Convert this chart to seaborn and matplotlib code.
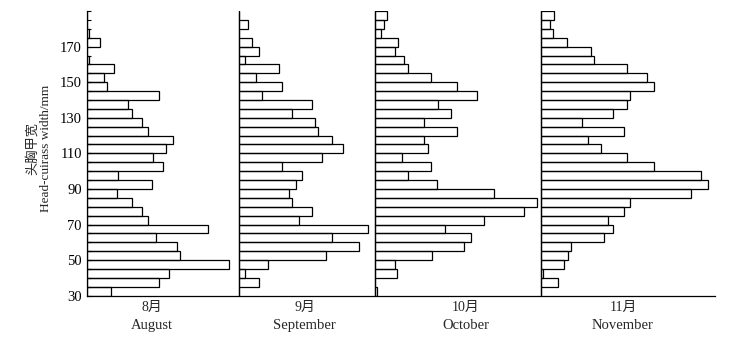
import pandas as pd
import matplotlib
matplotlib.use("Agg")
import matplotlib.pyplot as plt
import seaborn as sns

# lower edge of each 5 mm size class, bottom to top
bin_lower = list(range(30, 190, 5))

months_cn = ["8月", "9月", "10月", "11月"]
months_en = ["August", "September", "October", "November"]

# frequency of each size class (arbitrary units), bottom to top
freq_aug = [24.3, 72.7, 82.7, 142.3, 93.3, 90.7, 69.3, 121.7, 61.7, 55.0, 45.0, 30.7,
            65.0, 31.0, 76.7, 66.0, 79.3, 86.7, 61.7, 55.0, 45.0, 41.7, 72.3, 20.7,
            17.7, 27.7, 2.6, 0.0, 13.3, 2.6, 0.0, 0.0]
freq_sep = [0.0, 20.3, 6.3, 29.3, 86.7, 120.3, 92.7, 129.3, 60.3, 72.7, 52.7, 50.3,
            56.7, 63.3, 43.3, 83.3, 103.7, 92.7, 79.3, 76.0, 53.3, 72.7, 22.7, 43.3,
            17.0, 40.0, 6.3, 20.3, 13.3, 0.0, 9.3, 0.0]
freq_oct = [2.3, 0.0, 22.3, 20.0, 56.7, 89.3, 95.7, 70.0, 109.3, 149.3, 162.3, 119.0,
            62.3, 32.7, 56.0, 26.7, 53.3, 49.3, 82.3, 49.3, 75.7, 62.7, 102.3, 82.3,
            56.0, 33.3, 29.3, 20.3, 23.3, 6.0, 9.3, 12.3]
freq_nov = [0.0, 16.7, 2.3, 23.3, 26.7, 29.7, 63.0, 72.3, 66.7, 83.3, 89.0, 150.0,
            166.7, 160.0, 113.3, 86.3, 59.7, 46.7, 83.0, 40.7, 72.3, 86.3, 89.0, 113.3,
            106.3, 86.3, 53.3, 50.0, 26.3, 12.3, 9.0, 13.3]

# layout: horizontal room given to each month on the shared axis
panel_widths = [152, 136, 166, 174]
label_x = [65, 218, 379, 536]

rows = []
for m, vals in zip(months_en, [freq_aug, freq_sep, freq_oct, freq_nov]):
    for lo, v in zip(bin_lower, vals):
        rows.append({"month": m, "size": lo + 2.5, "freq": v})
df = pd.DataFrame(rows)

sns.set_style("ticks")
plt.rcParams["font.family"] = ["Liberation Serif", "Noto Sans CJK SC"]

fig = plt.figure(figsize=(7.35, 3.39), dpi=100)
ax = fig.add_axes([0.118, 0.1277, 0.8548, 0.8398])

offsets = [sum(panel_widths[:i]) for i in range(len(panel_widths))]
for m, off in zip(months_en, offsets):
    sub = df[df["month"] == m]
    sns.barplot(data=sub, x="freq", y="size", orient="y", native_scale=True,
                fill=False, color="black", errorbar=None, width=1.0,
                linewidth=0.9, left=off, ax=ax)

for off in offsets[1:]:
    ax.axvline(off, color="black", lw=0.9)

ax.set_xlim(0, sum(panel_widths))
ax.set_ylim(30, 190)
ax.set_xticks([])
ax.set_yticks(list(range(30, 171, 20)))
ax.set_yticks(bin_lower + [190], minor=True)
ax.tick_params(axis="y", which="both", direction="in", length=3, width=0.8,
               labelsize=10.5, pad=3.5, colors="black")
ax.set_xlabel("")
ax.set_ylabel("")
for s in ["top", "right"]:
    ax.spines[s].set_visible(False)
for s in ["left", "bottom"]:
    ax.spines[s].set_linewidth(0.9)
    ax.spines[s].set_color("black")

for x, cn, en in zip(label_x, months_cn, months_en):
    ax.text(x, -0.042, cn, transform=ax.get_xaxis_transform(), ha="center",
            va="center", fontsize=10)
    ax.text(x, -0.105, en, transform=ax.get_xaxis_transform(), ha="center",
            va="center", fontsize=10.5)

fig.text(0.044, 0.563, "头胸甲宽", rotation=90, ha="center", va="center", fontsize=9.5)
fig.text(0.063, 0.563, "Head-cuirass width/mm", rotation=90, ha="center",
         va="center", fontsize=9.5)

fig.savefig("out.png", dpi=100)
